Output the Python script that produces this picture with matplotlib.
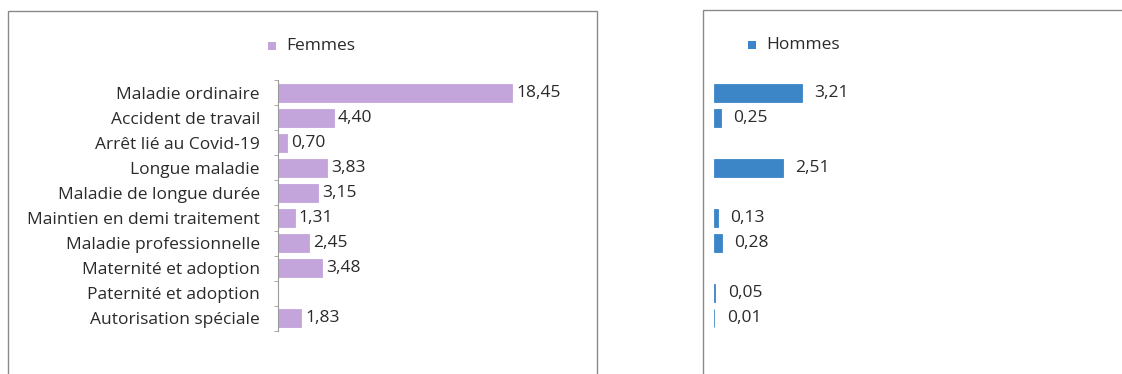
import matplotlib.pyplot as plt
from matplotlib.patches import Rectangle

plt.rcParams['font.family'] = ['Open Sans', 'DejaVu Sans']

# Categories (top to bottom) and values per series
categories = [
    "Maladie ordinaire",
    "Accident de travail",
    "Arrêt lié au Covid-19",
    "Longue maladie",
    "Maladie de longue durée",
    "Maintien en demi traitement",
    "Maladie professionnelle",
    "Maternité et adoption",
    "Paternité et adoption",
    "Autorisation spéciale",
]
femmes = [18.45, 4.40, 0.70, 3.83, 3.15, 1.31, 2.45, 3.48, None, 1.83]
hommes = [3.21, 0.25, None, 2.51, None, 0.13, 0.28, None, 0.05, 0.01]

col_f = "#c3a5db"
col_h = "#3c86c8"
txt = "#2a2a2a"
fs = 12.5
W, H = 1122, 374

fig = plt.figure(figsize=(W / 100, H / 100), dpi=100)


def fig_rect(x0, y0, x1, y1):
    # pixel box (top-left origin) -> figure fraction
    return [x0 / W, 1 - y1 / H, (x1 - x0) / W, (y1 - y0) / H]


# outer frames of the two charts
for x0, y0, x1, y1 in [(8, 11, 597, 380), (703, 10, 1130, 380)]:
    fig.patches.append(Rectangle((x0 / W, 1 - y1 / H), (x1 - x0) / W, (y1 - y0) / H,
                                 transform=fig.transFigure, fill=False,
                                 edgecolor="#8a8a8a", linewidth=1.0))


def fmt(v):
    return f"{v:.2f}".replace(".", ",")


def draw(ax, values, color, xmax, pad, show_labels):
    n = len(values)
    idx = [i for i, v in enumerate(values) if v is not None]
    vals = [values[i] for i in idx]
    bars = ax.barh(idx, vals, height=0.72, color=color, edgecolor=color,
                   linewidth=0.6)
    for b, v in zip(bars, vals):
        ax.annotate(fmt(v), (b.get_width(), b.get_y() + b.get_height() / 2),
                    xytext=(pad, 0), textcoords="offset points",
                    va="center", ha="left", fontsize=fs, color=txt,
                    annotation_clip=False)
    ax.set_ylim(n - 0.5, -0.5)
    ax.set_xlim(0, xmax)
    ax.set_facecolor("none")
    for s in ["top", "right", "bottom"]:
        ax.spines[s].set_visible(False)
    ax.xaxis.set_visible(False)
    if show_labels:
        ax.spines["left"].set_color("#9a9a9a")
        ax.spines["left"].set_linewidth(0.8)
        ax.set_yticks(range(n))
        ax.set_yticklabels(categories, fontsize=fs, color=txt)
        ax.tick_params(axis="y", length=0, pad=13)
        ax.set_yticks([i - 0.5 for i in range(n + 1)], minor=True)
        ax.tick_params(axis="y", which="minor", length=3, color="#9a9a9a")
    else:
        ax.spines["left"].set_visible(False)
        ax.set_yticks([])


ax1 = fig.add_axes(fig_rect(278, 80, 278 + 12.68 * 20, 331))
draw(ax1, femmes, col_f, 20, 3, True)

ax2 = fig.add_axes(fig_rect(714, 80, 714 + 27.3 * 10, 331))
draw(ax2, hommes, col_h, 10, 9, False)

# legends
for x, y, c, t in [(272, 46, col_f, "Femmes"), (752, 45, col_h, "Hommes")]:
    fig.patches.append(Rectangle(((x - 4) / W, 1 - (y + 4) / H), 8 / W, 8 / H,
                                 transform=fig.transFigure, facecolor=c,
                                 edgecolor="none"))
    fig.text((x + 14) / W, 1 - y / H, t, fontsize=fs, va="center", ha="left",
             color=txt)

fig.savefig("out.png", dpi=100)
